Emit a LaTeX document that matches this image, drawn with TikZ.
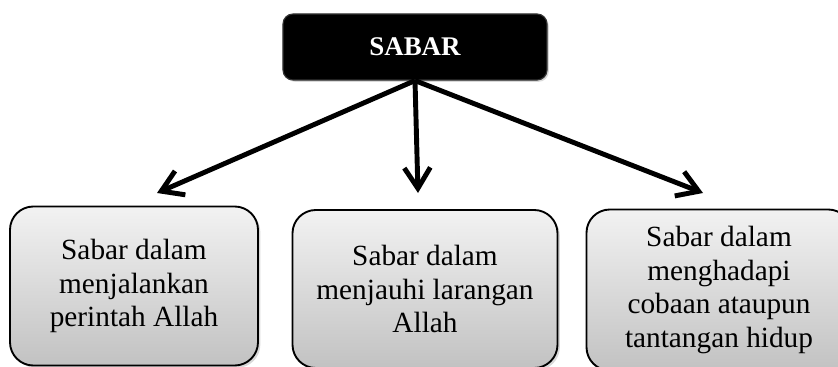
\documentclass[tikz,border=0pt]{standalone}
\usepackage{fontspec}
\setmainfont{Liberation Serif}
\usetikzlibrary{calc,arrows.meta,shadows}
\tikzset{
	kotak/.style={draw=black,line width=1.6pt,rounded corners=0.7cm,top color=gray!10,bottom color=gray!48,
		drop shadow={shadow xshift=2pt,shadow yshift=-2pt,opacity=0.3},align=center,inner sep=0pt,
		font=\fontsize{25}{28.5}\selectfont},
	judul/.style={draw=black!80,line width=1pt,fill=black,rounded corners=0.3cm,text=white,
		drop shadow={shadow xshift=1.5pt,shadow yshift=-1.5pt,opacity=0.3},
		font=\fontsize{23}{27}\selectfont\bfseries,minimum width=7.92cm,minimum height=1.98cm},
	panah/.style={line width=4.2pt,line join=miter,-{Straight Barb[length=0.62cm,width=0.78cm]}}
}
\begin{document}
\begin{tikzpicture}[x=0.03cm,y=-0.03cm]
					\path[use as bounding box,clip] (0,0) rectangle (838,367);
					%\draw[help lines,step=50] (0,0) grid (838,367);
					\node[judul] (sabar) at (415,47) {SABAR};
					\node[kotak,minimum width=7.44cm,minimum height=4.77cm] (perintah) at (134,286) {Sabar dalam\\menjalankan\\perintah Allah};
					\node[kotak,minimum width=7.95cm,minimum height=4.74cm] (larangan) at (425,289) {Sabar dalam\\menjauhi larangan\\Allah};
					\node[kotak,minimum width=7.95cm,minimum height=4.83cm] (cobaan) at (719,290) {Sabar dalam\\menghadapi\\cobaan ataupun\\tantangan hidup};
					%ARROWS
					\coordinate (ujungKiri) at (157,193);
					\coordinate (ujungTengah) at (418,193);
					\coordinate (ujungKanan) at (703,193);
					\draw[panah] (sabar.south) -- (ujungKiri);
					\draw[panah] (sabar.south) -- (ujungTengah);
					\draw[panah] (sabar.south) -- (ujungKanan);
\end{tikzpicture}
\end{document}
